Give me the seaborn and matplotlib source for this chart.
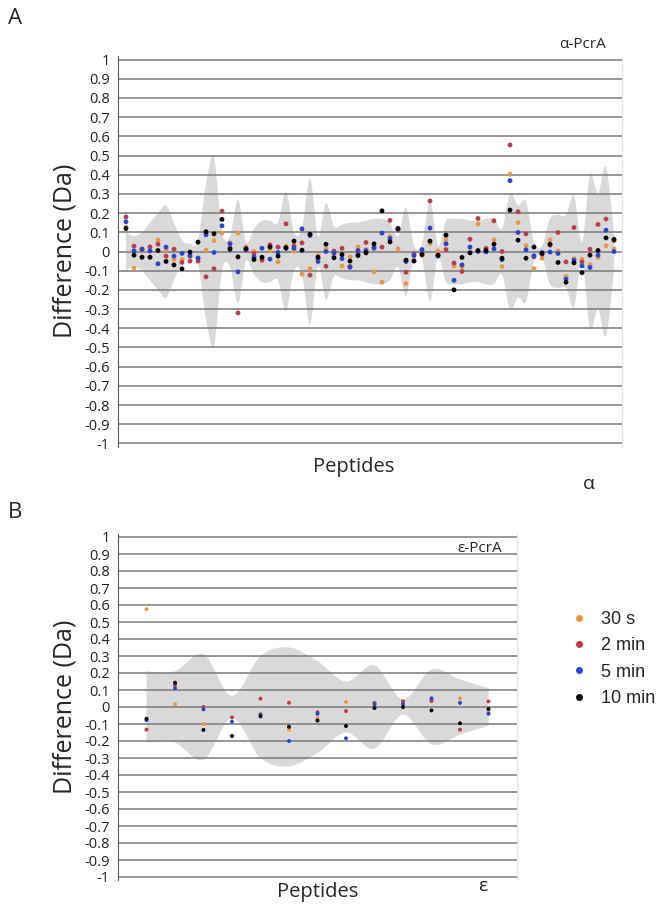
import numpy as np
import pandas as pd
import matplotlib
matplotlib.use('Agg')
import matplotlib.pyplot as plt
from matplotlib.path import Path
from matplotlib.patches import PathPatch
import seaborn as sns

# ---------------- data ----------------
times = ['30 s', '2 min', '5 min', '10 min']
colors = ['#f0963e', '#c23a45', '#2146e0', '#000000']

# panel A : alpha-PcrA, 62 peptides
a_30s = [0.127, -0.087, 0.002, -0.028, 0.06, 0.01, -0.04, -0.042, -0.028, -0.033,
         0.007, 0.057, 0.096, 0.045, 0.096, 0.023, 0.0, -0.037, 0.007, -0.054,
         0.028, 0.002, -0.117, -0.09, -0.021, 0.014, -0.021, -0.075, -0.028, 0.024,
         0.01, -0.106, -0.16, 0.078, 0.014, -0.167, -0.042, -0.021, 0.042, 0.003,
         0.059, -0.075, -0.08, -0.003, 0.143, 0.017, 0.061, -0.078, 0.403, 0.151,
         0.031, -0.089, -0.035, 0.061, 0.003, -0.13, -0.037, -0.04, -0.068, -0.031,
         0.03, 0.014]
a_2min = [0.18, 0.028, 0.014, 0.024, 0.038, -0.024, 0.012, -0.057, -0.05, -0.05,
          -0.132, -0.09, 0.21, 0.02, -0.32, 0.007, -0.01, -0.045, 0.035, 0.023,
          0.144, 0.03, 0.045, -0.123, -0.037, -0.077, 0.002, 0.017, -0.078, -0.014,
          0.047, 0.024, 0.023, 0.162, 0.113, -0.108, -0.012, -0.01, 0.263, -0.017,
          0.01, -0.06, -0.104, 0.064, 0.172, 0.016, 0.16, 0.0, 0.555, 0.207,
          0.092, -0.028, -0.014, 0.033, 0.099, -0.054, 0.125, -0.054, 0.012, 0.141,
          0.169, 0.057]
a_5min = [0.155, 0.003, 0.01, 0.003, -0.064, 0.023, -0.024, -0.01, -0.022, -0.035,
          0.087, -0.005, 0.134, 0.04, -0.106, 0.01, -0.028, 0.017, -0.04, -0.005,
          0.016, 0.017, 0.118, 0.083, -0.052, 0.0, -0.007, -0.037, -0.082, 0.005,
          0.005, 0.017, 0.096, 0.068, 0.118, -0.052, -0.021, 0.01, 0.122, -0.024,
          0.04, -0.15, -0.07, 0.023, 0.0, -0.002, 0.014, -0.042, 0.369, 0.099,
          0.009, -0.023, -0.005, -0.003, -0.01, -0.144, -0.045, -0.075, -0.083, -0.019,
          0.111, 0.0]
a_10min = [0.12, -0.019, -0.03, -0.03, 0.005, -0.052, -0.07, -0.09, -0.003, 0.049,
           0.103, 0.092, 0.167, 0.012, -0.028, 0.015, -0.042, -0.03, 0.024, -0.024,
           0.02, 0.054, 0.007, 0.09, -0.03, 0.038, -0.033, -0.016, -0.05, -0.021,
           -0.007, 0.04, 0.212, 0.05, 0.12, -0.045, -0.05, -0.016, 0.054, -0.02,
           0.085, -0.2, -0.031, -0.007, 0.005, 0.005, 0.038, -0.035, 0.216, 0.059,
           -0.035, 0.023, -0.01, 0.038, -0.057, -0.16, -0.059, -0.11, -0.019, 0.005,
           0.071, 0.063]
a_band = [0.10, 0.08, 0.10, 0.15, 0.20, 0.24, 0.15, 0.06, 0.04, 0.06,
          0.35, 0.49, 0.10, 0.08, 0.27, 0.05, 0.12, 0.16, 0.16, 0.15,
          0.31, 0.10, 0.12, 0.38, 0.08, 0.25, 0.13, 0.14, 0.15, 0.15,
          0.16, 0.17, 0.17, 0.15, 0.08, 0.23, 0.03, 0.04, 0.26, 0.03,
          0.16, 0.17, 0.17, 0.16, 0.16, 0.17, 0.17, 0.12, 0.30, 0.24,
          0.26, 0.05, 0.03, 0.17, 0.19, 0.19, 0.29, 0.05, 0.40, 0.30,
          0.44, 0.10]

# panel B : epsilon-PcrA, 13 peptides
b_30s = [0.575, 0.016, -0.1, -0.173, -0.039, -0.133, -0.065, 0.03, 0.002, -0.004, 0.033, 0.051, -0.033]
b_2min = [-0.133, 0.129, 0.0, -0.061, 0.049, 0.025, -0.03, -0.024, 0.024, 0.033, 0.037, -0.133, 0.033]
b_5min = [-0.078, 0.11, -0.014, -0.086, -0.045, -0.2, -0.04, -0.184, 0.016, 0.018, 0.051, 0.024, -0.04]
b_10min = [-0.069, 0.143, -0.135, -0.17, -0.055, -0.116, -0.08, -0.112, -0.006, 0.0, -0.02, -0.096, -0.012]
b_band = [0.21, 0.21, 0.31, 0.065, 0.30, 0.35, 0.27, 0.15, 0.245, 0.045, 0.22, 0.163, 0.11]

ytick_vals = [round(v, 1) for v in np.arange(-1.0, 1.05, 0.1)]
ytick_labels = [('0' if abs(v) < 1e-9 else ('%g' % v)) for v in ytick_vals]


def long_table(series):
    rows = []
    for t, vals in zip(times, series):
        for i, v in enumerate(vals):
            rows.append({'peptide': i, 'diff': v, 'time': t})
    return pd.DataFrame(rows)


def band_patch(ax, half):
    # smooth envelope (+half / -half) drawn as bezier curves
    x = np.arange(len(half), dtype=float)
    h = np.asarray(half, dtype=float)

    def curve(xs, ys, first):
        verts, codes = [(xs[0], ys[0])], [first]
        n = len(xs)
        for i in range(n - 1):
            p0 = np.array([xs[max(i - 1, 0)], ys[max(i - 1, 0)]])
            p1 = np.array([xs[i], ys[i]])
            p2 = np.array([xs[i + 1], ys[i + 1]])
            p3 = np.array([xs[min(i + 2, n - 1)], ys[min(i + 2, n - 1)]])
            c1 = p1 + (p2 - p0) / 6.0
            c2 = p2 - (p3 - p1) / 6.0
            verts += [tuple(c1), tuple(c2), tuple(p2)]
            codes += [Path.CURVE4] * 3
        return verts, codes

    v1, c1 = curve(x, h, Path.MOVETO)
    v2, c2 = curve(x[::-1], -h[::-1], Path.LINETO)
    verts = v1 + v2 + [(x[0], h[0])]
    codes = c1 + c2 + [Path.CLOSEPOLY]
    ax.add_patch(PathPatch(Path(verts, codes), facecolor='#d9d9d9',
                           edgecolor='none', zorder=0.5))


def style_axis(ax, n):
    ax.set_xlim(-1, n)
    ax.set_ylim(-1.02, 1.02)
    ax.hlines(ytick_vals, -1, n, colors='#7a7a7a', linewidth=1.1, zorder=1)
    ax.set_yticks(ytick_vals)
    ax.set_yticklabels(ytick_labels, fontsize=10.5, color='#222222')
    ax.set_xticks([])
    ax.tick_params(axis='y', length=4, width=0.8, color='#7a7a7a', pad=2)
    for s in ['top', 'bottom']:
        ax.spines[s].set_visible(False)
    ax.spines['left'].set_color('#5a5a5a')
    ax.spines['right'].set_color('#e4e4e4')
    ax.set_xlabel('')
    ax.set_ylabel('')


sns.set_style('white')
plt.rcParams['font.family'] = ['Open Sans', 'DejaVu Sans']

W, H = 661, 915
fig = plt.figure(figsize=(W / 100, H / 100), dpi=100)

def fx(px):
    return px / W

def fy(py):
    return 1 - py / H

palette = dict(zip(times, colors))

# ---- panel A ----
axA = fig.add_axes([fx(118), fy(443.5 + 3.8), fx(622 - 118), (384 + 7.6) / H])
band_patch(axA, a_band)
sns.scatterplot(data=long_table([a_30s, a_2min, a_5min, a_10min]), x='peptide', y='diff',
                hue='time', palette=palette, s=12, linewidth=0, legend=False,
                ax=axA, zorder=3)
style_axis(axA, len(a_band))

# ---- panel B ----
axB = fig.add_axes([fx(118), fy(877 + 3.4), fx(517 - 118), (340 + 6.8) / H])
band_patch(axB, b_band)
sns.scatterplot(data=long_table([b_30s, b_2min, b_5min, b_10min]), x='peptide', y='diff',
                hue='time', palette=palette, s=8, linewidth=0, legend=False,
                ax=axB, zorder=3)
style_axis(axB, len(b_band))

# ---- texts ----
fig.text(fx(15), fy(18), 'A', fontsize=16, ha='center', va='center')
fig.text(fx(15), fy(513), 'B', fontsize=16, ha='center', va='center')
for yc in (251, 707):
    fig.text(fx(65), fy(yc), 'Difference (Da)', fontsize=18, rotation=90,
             ha='center', va='center')
fig.text(fx(354), fy(467), 'Peptides', fontsize=14.5, ha='center', va='center')
fig.text(fx(318), fy(892), 'Peptides', fontsize=14.5, ha='center', va='center')
fig.text(fx(583), fy(45), 'α-PcrA', fontsize=11, ha='center', va='center')
fig.text(fx(589), fy(484), 'α', fontsize=14, ha='center', va='center')
fig.text(fx(480), fy(548), 'ε-PcrA', fontsize=11, ha='center', va='center')
fig.text(fx(483), fy(886), 'ε', fontsize=14, ha='center', va='center')

# legend
handles = [plt.Line2D([], [], linestyle='', marker='o', markersize=5,
                      markerfacecolor=c, markeredgewidth=0) for c in colors]
fig.legend(handles, times, loc='center left', bbox_to_anchor=(fx(561), fy(659)),
           frameon=False, prop={'family': 'Liberation Sans', 'size': 13},
           handletextpad=0.6, labelspacing=0.52, handlelength=1.2, borderaxespad=0)

fig.savefig('out.png', dpi=100)
